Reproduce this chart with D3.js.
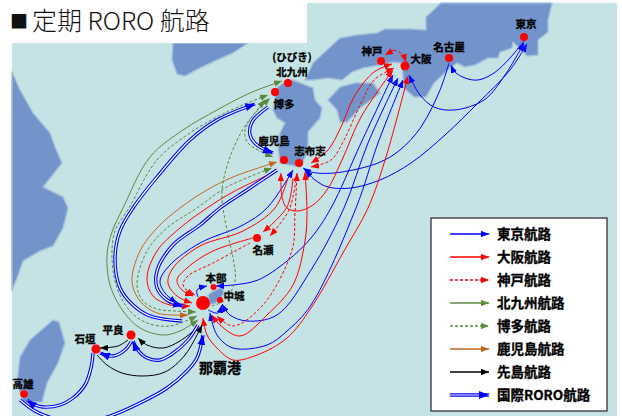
<!DOCTYPE html>
<html lang="ja">
<head>
<meta charset="utf-8">
<title>定期 RORO 航路</title>
<script src="https://cdn.jsdelivr.net/npm/d3@7"></script>
<style>
  body { margin: 0; background: #fff; }
  text { font-family: "Noto Sans CJK JP", "Noto Sans", sans-serif; }
</style>
</head>
<body>
<script>
const mapExtent = [622, 416];

const landShapes = [
  // Korea
  [[173,43],[172,60],[177,74],[185,76],[200,68],[217,60],[233,53],[248,43]],
  // China
  [[12,72],[20,90],[33,113],[50,133],[55,147],[62,163],[43,187],[63,197],[68,208],[63,228],[53,246],[40,251],[23,261],[17,278],[12,290]],
  // Taiwan
  [[53,320],[59,322],[65,343],[58,363],[47,383],[42,402],[23,402],[17,382],[20,357],[30,340]],
  // Honshu
  [[305,80],[313,63],[327,50],[340,38],[357,35],[377,33],[385,29],[410,29],[426,30],[426,17],[441,3],[552,3],[548,20],[548,32],[538,40],[538,55],[527,56],[513,42],[512,48],[500,52],[498,58],[488,58],[475,65],[465,67],[457,63],[451,67],[434,83],[426,97],[414,97],[404,88],[403,77],[402,63],[393,62],[380,65],[363,68],[352,72],[342,80],[328,78],[313,80]],
  // Shikoku
  [[328,100],[340,87],[355,83],[373,83],[380,93],[360,108],[347,122],[340,122],[337,110]],
  // Kyushu
  [[283,83],[293,80],[313,88],[315,100],[322,108],[320,118],[308,132],[308,142],[307,152],[303,162],[300,167],[280,163],[278,147],[280,133],[285,123],[277,118],[273,110],[275,97],[272,92]],
  // Okinawa
  [[208,295],[212,292],[222,287],[224,293],[218,302],[210,305]]
];

const portNames = ["東京","名古屋","大阪","神戸","北九州","博多","鹿児島","志布志","名瀬","本部","中城","那覇","平良","石垣","高雄"];
const portX = [524,449,405,381,288,275,284,299,257,213.5,220,203,131,96,24];
const portY = [37,58,66,61,83,92,160,163,238,287,300,303,335,349,394];
const portSizes = [4,4,4.5,4,4,4,4,4,4,3,3,7,4.5,4.5,3.8];

// label anchor points, same order as labelTexts
const labelTexts = ["東京","名古屋","大阪","神戸","(ひびき)|北九州","博多","鹿児島","志布志","名瀬","本部","中城","平良","石垣","高雄"];
const labelX = [526,449,421,372,292,284,274,310,263,216,234,113,85,23];
const labelY = [24,47,59,51,57.5,104,141,151,250,278,296,330,339,384];

// each route is a list of waypoints, the arrow goes on the last one
const tokyoRoutes = [
  [[524,41],[510,58],[494,73],[478,80],[465,78],[455,72],[451,65]],
  [[524,43],[505,75],[484,100],[454,110],[434,107],[420,95],[409,75]],
  [[527,44],[510,70],[478,103],[445,135],[411,163],[380,180],[351,188],[328,187],[315,180],[305,170]],
  [[449,63],[440,90],[421,127],[400,150],[378,163],[334,173],[311,172],[303,168]],
  [[393,75],[361,143],[331,208],[311,238],[287,261],[258,280],[233,285],[216,286]],
  [[398,78],[368,143],[344,208],[311,270],[277,315],[247,321],[230,315],[222,304]],
  [[403,80],[378,143],[356,208],[311,305],[287,331],[267,345],[233,348],[217,335],[210,313]],
  [[293,170],[267,208],[243,225],[200,243],[170,265],[160,281],[165,293],[177,303]],
  [[198,297],[197,290],[207,286]],
  [[208,310],[218,313],[222,305]]
];

const osakaRoutes = [
  [[311,163],[328,150],[341,127],[354,97],[374,72],[392,64]],
  [[408,76],[386,157],[368,208],[344,251],[311,308],[287,338],[257,355],[233,360],[217,348],[207,335],[203,318]],
  [[393,70],[361,117],[342,160],[327,190],[313,205],[298,211],[287,208],[282,197],[281,173]],
  [[305,172],[307,213],[305,241],[293,285],[267,315],[240,336],[220,325],[212,315]],
  [[268,175],[233,192],[207,208],[180,228],[157,251],[147,278],[153,296],[170,305],[190,306]],
  [[288,178],[275,208],[243,231],[200,246],[173,268],[168,283],[177,296],[192,303]],
  [[293,178],[287,207],[263,232]],
  [[253,238],[213,251],[187,268],[177,280],[182,290],[193,296]]
];

const kobeRoutes = [
  [[311,167],[331,160],[344,140],[361,103],[374,80],[394,68]],
  [[394,50],[385,55]],
  [[394,50],[402,54],[406,62]],
  [[297,173],[295,213],[292,250],[263,305],[233,326],[217,316]],
  [[296,180],[289,210],[270,236]],
  [[250,243],[213,263],[188,276],[183,285],[188,291],[195,295]]
];

const kitakyushuRoutes = [
  [[198,320],[180,331],[163,335],[140,328],[123,311],[110,285],[107,255],[112,232],[123,208],[150,157],[183,130],[217,110],[250,93],[282,81]]
];

const hakataRoutes = [
  [[197,316],[170,326],[147,323],[130,311],[117,288],[112,258],[115,231],[129,208],[157,160],[190,133],[227,112],[268,95]],
  [[212,306],[225,300],[235,281],[233,258],[228,235],[223,208],[222,190],[230,157],[247,123],[270,98]],
  [[265,100],[245,130],[248,143],[273,157]],
  [[196,312],[175,311],[157,309],[143,301],[137,285],[147,251],[167,228],[197,208],[227,187],[272,168]]
];

const kagoshimaRoutes = [
  [[188,315],[157,313],[140,301],[132,281],[140,251],[157,228],[180,208],[207,190],[233,177],[277,162]]
];

const sakishimaRoutes = [
  [[197,328],[180,341],[163,348],[147,345],[138,338]],
  [[128,340],[118,346],[100,348]],
  [[97,355],[107,365],[122,373],[143,376],[165,372],[185,355],[202,325]]
];

const kokusaiRoutes = [
  [[182,321],[150,316],[133,305],[120,288],[115,258],[120,231],[133,208],[157,177],[190,140],[217,120],[255,104]],
  [[277,170],[247,190],[220,208],[200,225],[173,245],[157,271],[157,288],[167,300],[183,306]],
  [[268,107],[252,122],[250,135],[257,145],[273,153]],
  [[20,400],[35,411],[52,418],[80,423],[110,416],[140,403],[167,388],[187,371],[197,358],[203,335]],
  [[93,353],[91,368],[85,385],[73,398],[60,405],[43,407],[33,404],[27,400]],
  [[198,325],[188,340],[172,354],[160,360],[147,358],[137,349],[133,341]],
  [[131,342],[125,350],[113,356],[100,353]]
];

// indexes of the routes that carry an arrow on their first waypoint too
const tokyoTwoWay = [1,2,4,5,6,7];
const osakaTwoWay = [0,1,2,3];
const kobeTwoWay = [0,3];
const kitakyushuTwoWay = [0];
const hakataTwoWay = [0,2,3];
const kagoshimaTwoWay = [0];

const legendNames = ["東京航路","大阪航路","神戸航路","北九州航路","博多航路","鹿児島航路","先島航路","国際RORO航路"];
const legendRoutes = [tokyoRoutes, osakaRoutes, kobeRoutes, kitakyushuRoutes, hakataRoutes, kagoshimaRoutes, sakishimaRoutes, kokusaiRoutes];
const legendTwoWay = [tokyoTwoWay, osakaTwoWay, kobeTwoWay, kitakyushuTwoWay, hakataTwoWay, kagoshimaTwoWay, [], []];

const serviceColors = ["#0000ff","#ff0000","#ff0000","#5a8a3c","#5a8a3c","#c0661f","#000000","#0000ff"];
const serviceDash = [null,null,"3,2",null,"3,2",null,null,null];

const svg = d3.select("body").append("svg")
    .attr("width", mapExtent[0])
    .attr("height", mapExtent[1])
    .style("display", "block");

const x = d3.scaleLinear().domain([0, mapExtent[0]]).range([0, mapExtent[0]]);
const y = d3.scaleLinear().domain([0, mapExtent[1]]).range([0, mapExtent[1]]);

const routeLine = d3.line()
    .x(d => x(d[0]))
    .y(d => y(d[1]))
    .curve(d3.curveCatmullRom.alpha(0.5));

const landLine = d3.line()
    .x(d => x(d[0]))
    .y(d => y(d[1]))
    .curve(d3.curveLinearClosed);

// arrow heads, one per service
const defs = svg.append("defs");
defs.selectAll("marker")
    .data(legendNames)
    .enter()
    .append("marker")
    .attr("id", (d, i) => "arrow" + i)
    .attr("markerUnits", "userSpaceOnUse")
    .attr("viewBox", "0 0 10 8")
    .attr("refX", 10)
    .attr("refY", 4)
    .attr("markerWidth", (d, i) => i === 7 ? 10 : 8)
    .attr("markerHeight", (d, i) => i === 7 ? 8 : 6.4)
    .attr("orient", "auto-start-reverse")
    .append("path")
    .attr("d", "M0,0L10,4L0,8Z")
    .attr("fill", (d, i) => serviceColors[i]);

// sea
svg.append("rect")
    .attr("x", x(12))
    .attr("y", y(3))
    .attr("width", x(617) - x(12))
    .attr("height", y(416) - y(3))
    .attr("fill", "#c5e2e5");

// land
svg.append("g")
    .selectAll("path")
    .data(landShapes)
    .enter()
    .append("path")
    .attr("d", landLine)
    .attr("fill", "#7393cb")
    .attr("stroke", "#a3c0da")
    .attr("stroke-width", 1.5)
    .attr("stroke-linejoin", "round");

// title box sits on top of the map
svg.append("rect")
    .attr("x", 0)
    .attr("y", 0)
    .attr("width", x(307))
    .attr("height", y(43))
    .attr("fill", "#fff");

svg.append("text")
    .attr("x", x(10))
    .attr("y", y(27.5))
    .attr("font-size", 18)
    .attr("fill", "#111")
    .text("■");

svg.append("text")
    .attr("x", x(32))
    .attr("y", y(30))
    .attr("font-size", 25)
    .attr("font-weight", 300)
    .attr("fill", "#111")
    .text("定期 RORO 航路");

// routes
const routesLayer = svg.append("g").attr("fill", "none");
legendRoutes.forEach((routes, i) => {
    const group = routesLayer.append("g");
    if (i === 7) {
        group.selectAll(".outer").data(routes).enter().append("path")
            .attr("class", "outer")
            .attr("d", routeLine)
            .attr("stroke", serviceColors[i])
            .attr("stroke-width", 3.4);
        group.selectAll(".inner").data(routes).enter().append("path")
            .attr("class", "inner")
            .attr("d", routeLine)
            .attr("stroke", "#fff")
            .attr("stroke-width", 1.2);
        group.selectAll(".head").data(routes).enter().append("path")
            .attr("class", "head")
            .attr("d", routeLine)
            .attr("marker-end", "url(#arrow7)");
    } else {
        group.selectAll("path").data(routes).enter().append("path")
            .attr("d", routeLine)
            .attr("stroke", serviceColors[i])
            .attr("stroke-width", 1)
            .attr("stroke-dasharray", serviceDash[i])
            .attr("marker-start", (d, j) => legendTwoWay[i].includes(j) ? `url(#arrow${i})` : null)
            .attr("marker-end", `url(#arrow${i})`);
    }
});

// ports
svg.append("g")
    .selectAll("circle")
    .data(portNames)
    .enter()
    .append("circle")
    .attr("cx", (d, i) => x(portX[i]))
    .attr("cy", (d, i) => y(portY[i]))
    .attr("r", (d, i) => portSizes[i])
    .attr("fill", "#ff0000");

// port labels, "|" breaks a label into two lines
svg.append("g")
    .selectAll("text")
    .data(labelTexts)
    .enter()
    .append("text")
    .attr("x", (d, i) => x(labelX[i]))
    .attr("y", (d, i) => y(labelY[i]))
    .attr("text-anchor", "middle")
    .attr("font-size", 10.5)
    .attr("font-weight", 700)
    .attr("stroke", "#000")
    .attr("stroke-width", 0.3)
    .each(function (d, i) {
        d.split("|").forEach((line, j) => {
            d3.select(this).append("tspan")
                .attr("x", x(labelX[i]))
                .attr("dy", j === 0 ? "0.35em" : "1.45em")
                .text(line);
        });
    });

svg.append("text")
    .attr("x", x(220))
    .attr("y", y(368))
    .attr("dy", "0.35em")
    .attr("text-anchor", "middle")
    .attr("font-size", 14)
    .attr("font-weight", 700)
    .attr("stroke", "#000")
    .attr("stroke-width", 0.3)
    .text("那覇港");

// legend
const legendRow = d3.scalePoint()
    .domain(legendNames)
    .range([y(234), y(395)]);

svg.append("rect")
    .attr("x", x(431))
    .attr("y", y(218))
    .attr("width", x(607) - x(431))
    .attr("height", y(411) - y(218))
    .attr("fill", "#fff")
    .attr("stroke", "#333")
    .attr("stroke-width", 1.3);

const legendItem = svg.append("g")
    .selectAll("g")
    .data(legendNames)
    .enter()
    .append("g")
    .attr("transform", d => `translate(0,${legendRow(d)})`);

legendItem.append("line")
    .attr("x1", x(450))
    .attr("x2", x(489))
    .attr("stroke", (d, i) => serviceColors[i])
    .attr("stroke-width", (d, i) => i === 7 ? 3.4 : 1.3)
    .attr("stroke-dasharray", (d, i) => serviceDash[i]);

legendItem.filter((d, i) => i === 7).append("line")
    .attr("x1", x(450))
    .attr("x2", x(489))
    .attr("stroke", "#fff")
    .attr("stroke-width", 1.2);

legendItem.append("line")
    .attr("x1", x(450))
    .attr("x2", x(489))
    .attr("stroke", "none")
    .attr("marker-end", (d, i) => `url(#arrow${i})`);

legendItem.append("text")
    .attr("x", x(497))
    .attr("dy", "0.35em")
    .attr("font-size", 13.5)
    .attr("font-weight", 700)
    .attr("stroke", "#000")
    .attr("stroke-width", 0.3)
    .text(d => d);
</script>
</body>
</html>
